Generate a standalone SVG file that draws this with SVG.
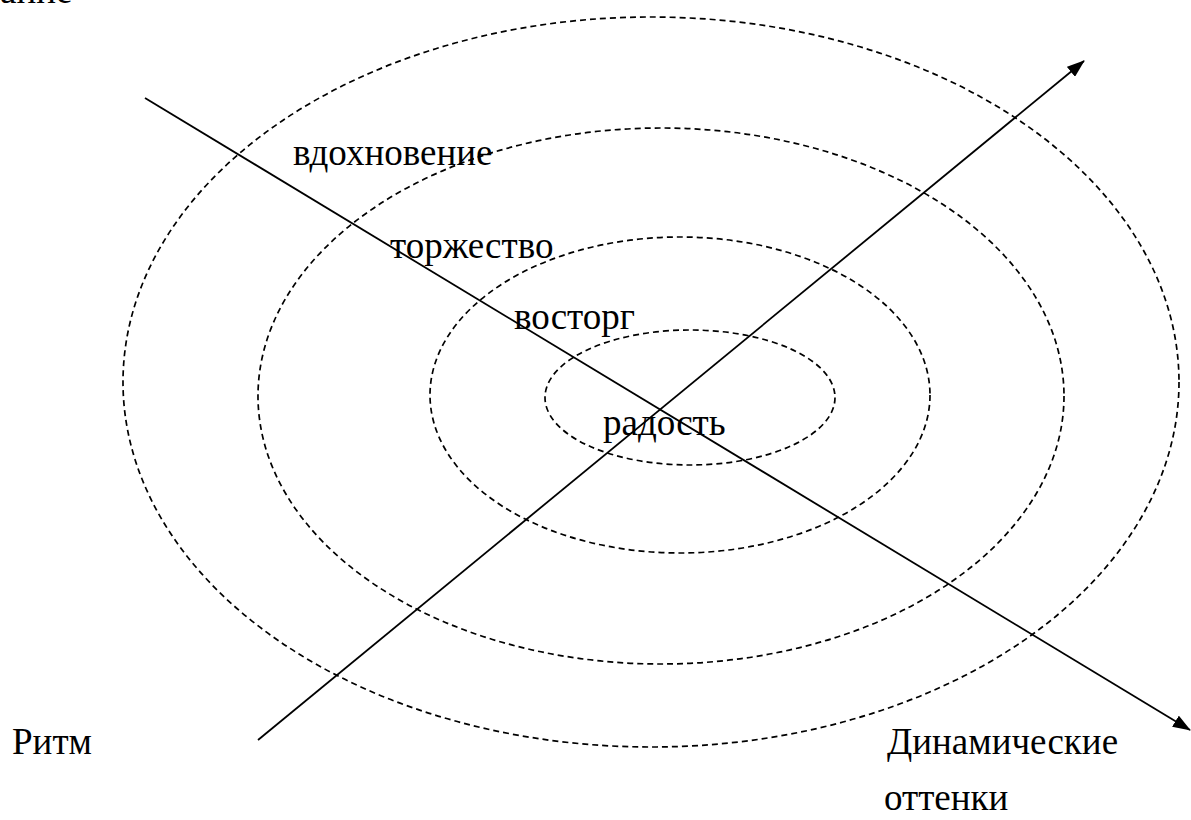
<svg xmlns="http://www.w3.org/2000/svg" width="1191" height="820" viewBox="0 0 1191 820">
<style>
.ring{fill:none;stroke:#000;stroke-width:1.7;stroke-dasharray:6 4}
.axis{fill:none;stroke:#000;stroke-width:1.8}
text{font-family:"Liberation Serif","Times New Roman",serif;font-size:37px;fill:#000}
</style>
<defs>
<marker id="arr" markerWidth="18" markerHeight="13" refX="17" refY="6.5" orient="auto" markerUnits="userSpaceOnUse">
<path d="M0,0 L18,6.5 L0,13 Z" fill="#000"/>
</marker>
</defs>
<rect width="1191" height="820" fill="#fff"/>
<g id="rings">
<ellipse id="ring-outer" class="ring" cx="651" cy="382" rx="528" ry="365"/>
<ellipse id="ring-2" class="ring" cx="661" cy="396" rx="403" ry="268"/>
<ellipse id="ring-3" class="ring" cx="680" cy="395" rx="250" ry="158"/>
<ellipse id="ring-inner" class="ring" cx="690" cy="397.5" rx="145" ry="67.5"/>
</g>
<g id="connectors">
<line class="axis" x1="145" y1="98" x2="1190" y2="730" marker-end="url(#arr)"/>
<line class="axis" x1="258" y1="740" x2="1084" y2="61" marker-end="url(#arr)"/>
</g>
<g id="labels">
<text id="t-top" x="0" y="3">ание</text>
<text id="t-vdoh" x="293" y="165">вдохновение</text>
<text id="t-torzh" x="390" y="258">торжество</text>
<text id="t-vost" x="514" y="329">восторг</text>
<text id="t-rad" x="603" y="435">радость</text>
<text id="t-ritm" x="12" y="754">Ритм</text>
<text id="t-din1" x="887" y="754">Динамические</text>
<text id="t-din2" x="884" y="810">оттенки</text>
</g>
</svg>
